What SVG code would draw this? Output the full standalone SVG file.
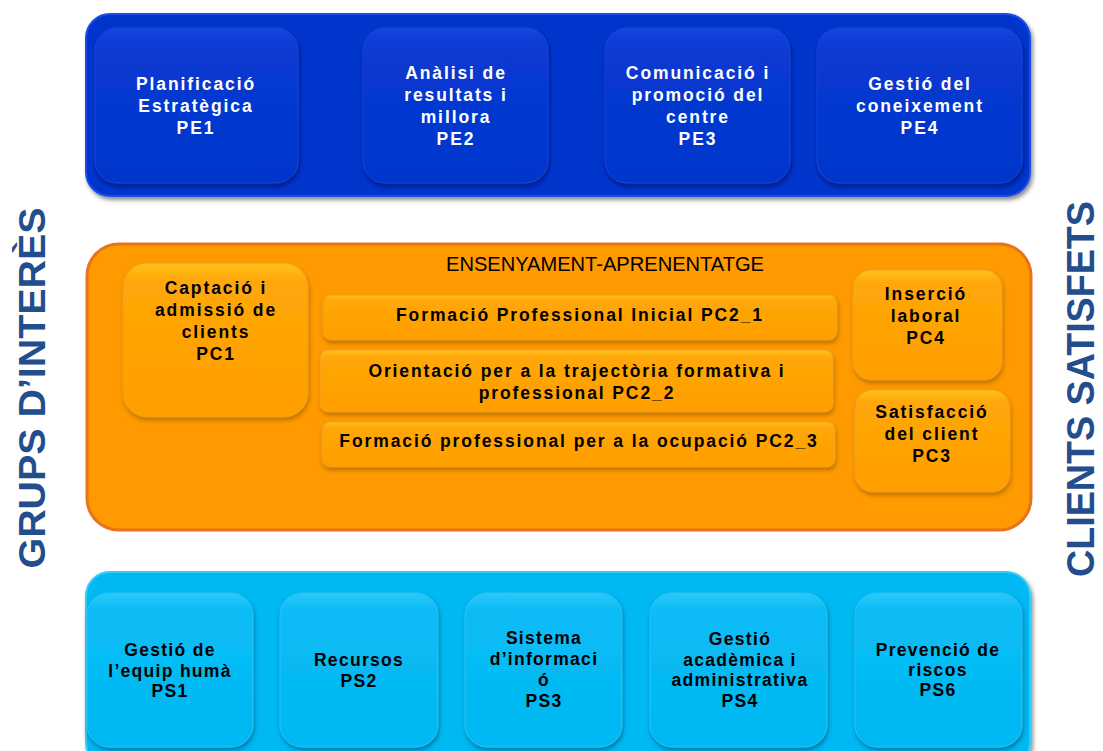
<svg xmlns="http://www.w3.org/2000/svg" width="1103" height="751" viewBox="0 0 1103 751">
<style>
.t{font-family:"Liberation Sans",Arial,sans-serif;font-weight:bold;font-size:17.5px;text-anchor:middle}
.w{fill:#ffffff;letter-spacing:1.9px}
.k{fill:#000000;letter-spacing:1.9px}
.b{fill:#000000;letter-spacing:1.3px}
.side{font-family:"Liberation Sans",Arial,sans-serif;font-weight:bold;fill:#234E8D;text-anchor:middle}
.pe{fill:url(#gBlue);stroke:#1A44DC;stroke-width:1;filter:url(#sh)}
.pc{fill:url(#gOr);stroke:#F0A020;stroke-width:1;filter:url(#shO)}
.ps{fill:url(#gCy);stroke:#2AC4F5;stroke-width:1;filter:url(#shC)}
</style>
<defs>
<linearGradient id="gBlue" x1="0" y1="0" x2="0" y2="1"><stop offset="0" stop-color="#1645DC"/><stop offset="0.15" stop-color="#073AD2"/><stop offset="1" stop-color="#0536CC"/></linearGradient>
<linearGradient id="gOr" x1="0" y1="0" x2="0" y2="1"><stop offset="0" stop-color="#FFC21C"/><stop offset="0.12" stop-color="#FFA708"/><stop offset="1" stop-color="#FF9E00"/></linearGradient>
<linearGradient id="gCy" x1="0" y1="0" x2="0" y2="1"><stop offset="0" stop-color="#2CC8F8"/><stop offset="0.12" stop-color="#08BCF6"/><stop offset="1" stop-color="#04B8F2"/></linearGradient>
<filter id="sh" x="-10%" y="-10%" width="125%" height="130%"><feDropShadow dx="1" dy="3" stdDeviation="2" flood-color="#001466" flood-opacity="0.7"/></filter>
<filter id="shO" x="-10%" y="-10%" width="125%" height="130%"><feDropShadow dx="1" dy="3" stdDeviation="2" flood-color="#9A5A00" flood-opacity="0.6"/></filter>
<filter id="shC" x="-10%" y="-10%" width="125%" height="130%"><feDropShadow dx="1" dy="3" stdDeviation="2" flood-color="#00507A" flood-opacity="0.6"/></filter>
<filter id="bsh" x="-5%" y="-5%" width="110%" height="115%"><feDropShadow dx="2" dy="3" stdDeviation="2" flood-color="#000000" flood-opacity="0.45"/></filter>
</defs>
<rect width="1103" height="751" fill="#ffffff"/>

<g id="bands">
<rect x="86" y="14" width="944" height="182" rx="24" fill="#0335CC" stroke="#1B4BE8" stroke-width="2" filter="url(#bsh)"/>
<rect x="87" y="244" width="944" height="286" rx="32" fill="#FF9A00" stroke="#E8731C" stroke-width="3"/>
<rect x="86" y="572" width="944" height="195" rx="24" fill="#05B8F2" stroke="#36CBF8" stroke-width="2" filter="url(#bsh)"/>
</g>

<g id="side-labels">
<text class="side" font-size="37" transform="translate(45,388) rotate(-90)" textLength="361" lengthAdjust="spacingAndGlyphs">GRUPS  D’INTERÈS</text>
<text class="side" font-size="38" transform="translate(1094,389) rotate(-90)" textLength="376" lengthAdjust="spacingAndGlyphs">CLIENTS SATISFETS</text>
</g>

<g id="PE1"><rect class="pe" x="95" y="28" width="203" height="155" rx="22"/>
<text class="t w"><tspan x="196" y="90">Planificació</tspan><tspan x="196" y="112">Estratègica</tspan><tspan x="196" y="134">PE1</tspan></text></g>
<g id="PE2"><rect class="pe" x="363" y="28" width="185" height="155" rx="22"/>
<text class="t w"><tspan x="456" y="79">Anàlisi de</tspan><tspan x="456" y="101">resultats i</tspan><tspan x="456" y="123">millora</tspan><tspan x="456" y="145">PE2</tspan></text></g>
<g id="PE3"><rect class="pe" x="605" y="28" width="185" height="155" rx="22"/>
<text class="t w"><tspan x="698" y="79">Comunicació i</tspan><tspan x="698" y="101">promoció del</tspan><tspan x="698" y="123">centre</tspan><tspan x="698" y="145">PE3</tspan></text></g>
<g id="PE4"><rect class="pe" x="817" y="28" width="205" height="155" rx="22"/>
<text class="t w"><tspan x="920" y="90">Gestió del</tspan><tspan x="920" y="112">coneixement</tspan><tspan x="920" y="134">PE4</tspan></text></g>

<g id="header"><text x="605" y="271" font-family="Liberation Sans,Arial,sans-serif" font-size="19.5" fill="#000000" text-anchor="middle" textLength="318" lengthAdjust="spacingAndGlyphs">ENSENYAMENT-APRENENTATGE</text></g>

<g id="PC1"><rect class="pc" x="123" y="263" width="185" height="154" rx="24"/>
<text class="t k"><tspan x="216" y="294">Captació i</tspan><tspan x="216" y="316">admissió de</tspan><tspan x="216" y="338">clients</tspan><tspan x="216" y="360">PC1</tspan></text></g>
<g id="PC2_1"><rect class="pc" x="323" y="295" width="514" height="45" rx="8"/>
<text class="t k"><tspan x="580" y="321">Formació Professional Inicial PC2_1</tspan></text></g>
<g id="PC2_2"><rect class="pc" x="320" y="350" width="513" height="62" rx="8"/>
<text class="t k"><tspan x="577" y="377">Orientació per a la trajectòria formativa i</tspan><tspan x="577" y="399">professional PC2_2</tspan></text></g>
<g id="PC2_3"><rect class="pc" x="322" y="422" width="513" height="45" rx="8"/>
<text class="t k"><tspan x="579" y="447">Formació professional per a la ocupació PC2_3</tspan></text></g>
<g id="PC4"><rect class="pc" x="853" y="270" width="149" height="110" rx="18"/>
<text class="t k"><tspan x="926" y="300">Inserció</tspan><tspan x="926" y="322">laboral</tspan><tspan x="926" y="344">PC4</tspan></text></g>
<g id="PC3"><rect class="pc" x="855" y="390" width="155" height="102" rx="18"/>
<text class="t k"><tspan x="932" y="418">Satisfacció</tspan><tspan x="932" y="440">del client</tspan><tspan x="932" y="462">PC3</tspan></text></g>

<g id="PS1"><rect class="ps" x="87" y="593" width="166" height="154" rx="22"/>
<text class="t b"><tspan x="170" y="656">Gestió de</tspan><tspan x="170" y="677">l’equip humà</tspan><tspan x="170" y="697">PS1</tspan></text></g>
<g id="PS2"><rect class="ps" x="280" y="593" width="158" height="154" rx="22"/>
<text class="t b"><tspan x="359" y="666">Recursos</tspan><tspan x="359" y="687">PS2</tspan></text></g>
<g id="PS3"><rect class="ps" x="465" y="593" width="157" height="154" rx="22"/>
<text class="t b"><tspan x="544" y="644">Sistema</tspan><tspan x="544" y="665">d’informaci</tspan><tspan x="544" y="686">ó</tspan><tspan x="544" y="707">PS3</tspan></text></g>
<g id="PS4"><rect class="ps" x="650" y="593" width="177" height="154" rx="22"/>
<text class="t b"><tspan x="740" y="645">Gestió</tspan><tspan x="740" y="666">acadèmica i</tspan><tspan x="740" y="686">administrativa</tspan><tspan x="740" y="707">PS4</tspan></text></g>
<g id="PS6"><rect class="ps" x="855" y="593" width="167" height="154" rx="22"/>
<text class="t b"><tspan x="938" y="656">Prevenció de</tspan><tspan x="938" y="676">riscos</tspan><tspan x="938" y="696">PS6</tspan></text></g>

<g id="connectors"></g>
</svg>
